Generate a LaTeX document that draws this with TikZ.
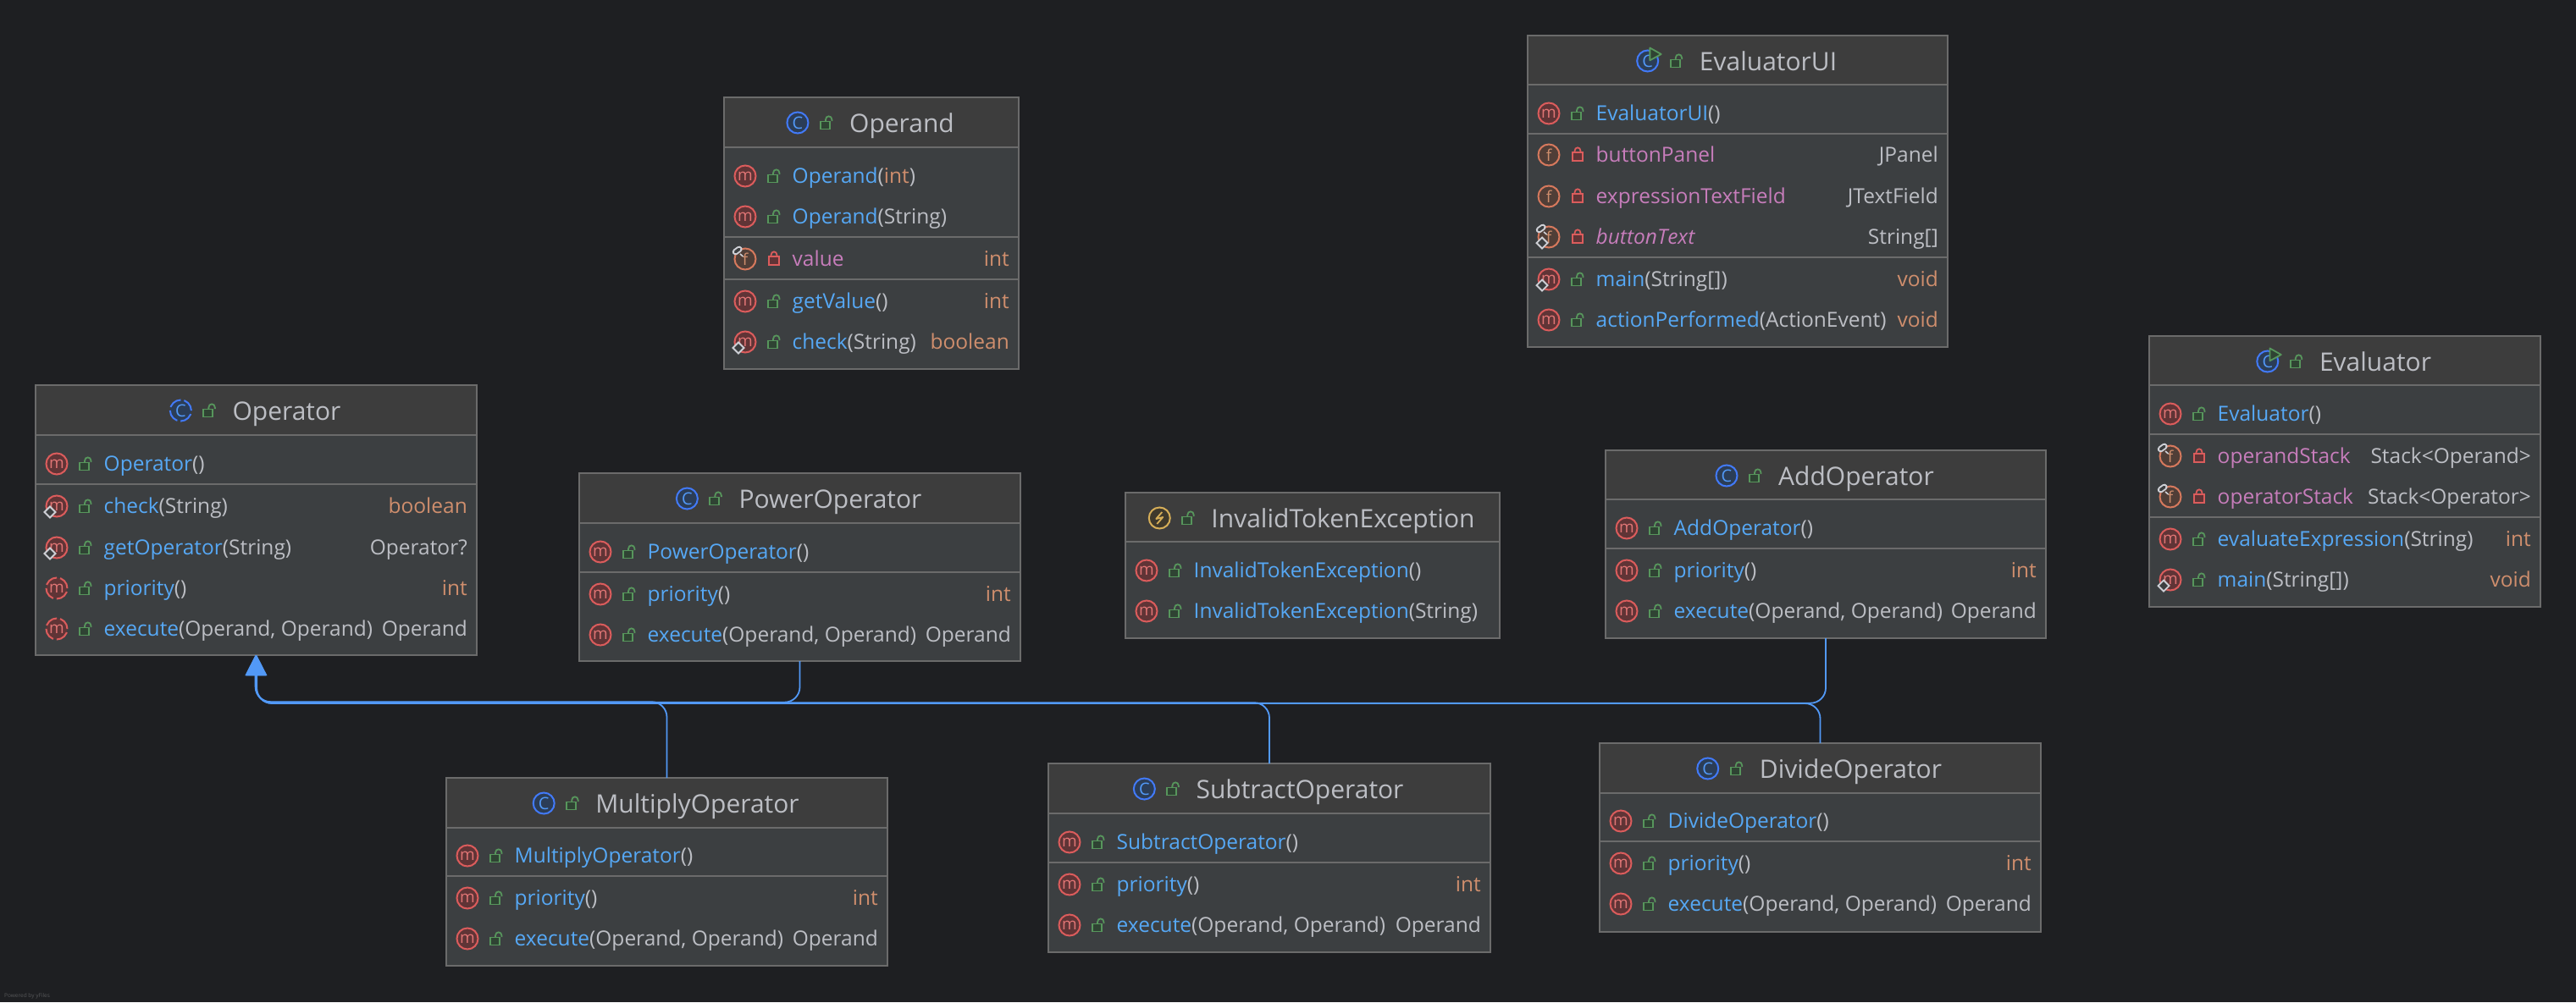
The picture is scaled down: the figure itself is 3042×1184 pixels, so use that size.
\documentclass[tikz,border=0pt]{standalone}
\usepackage{fontspec}
\setmainfont{Open Sans}
\usetikzlibrary{arrows.meta}
\definecolor{canvasbg}{HTML}{1E1F22}
\definecolor{bodyfill}{HTML}{3C3F41}
\definecolor{titlefill}{HTML}{3D3D3D}
\definecolor{framegray}{HTML}{6B6B6B}
\definecolor{plaintext}{HTML}{BCBEC4}
\definecolor{nameblue}{HTML}{56A8F5}
\definecolor{fieldpink}{HTML}{C77DBB}
\definecolor{typeorange}{HTML}{CF8E6D}
\definecolor{linkblue}{HTML}{5299F7}
\definecolor{lockgreen}{HTML}{57965C}
\definecolor{lockred}{HTML}{DB5C5C}
\definecolor{markwhite}{HTML}{CED0D6}
\definecolor{boltyellow}{HTML}{D6AE58}
\newcommand{\bodyfont}{\fontsize{24.5}{30}\selectfont}
\newcommand{\titlefont}{\fontsize{30}{36}\selectfont}
\newcommand{\nm}[1]{\textcolor{nameblue}{#1}}
\newcommand{\fd}[1]{\textcolor{fieldpink}{#1}}
\newcommand{\ty}[1]{\textcolor{typeorange}{#1}}
\tikzset{
	lockopen/.pic={
		\draw[lockgreen, line width=1.8pt] (-1,-1.5) -- (-1,-3.5) .. controls (-1,-9) and (6.5,-9) .. (6.5,-3.5) -- (6.5,-2);
		\draw[lockgreen, line width=1.8pt, fill=lockgreen!30!canvasbg] (-7,-1.5) rectangle (4,7.5);
	},
	lockshut/.pic={
		\draw[lockred, line width=1.8pt] (-3.5,-2.7) -- (-3.5,-4.5) .. controls (-3.5,-10) and (3.5,-10) .. (3.5,-4.5) -- (3.5,-2.7);
		\draw[lockred, line width=1.8pt, fill=lockred!35!canvasbg] (-6,-2.7) rectangle (6,6.7);
	},
	staticmark/.pic={
		\draw[markwhite, line width=1.8pt, fill=bodyfill] (-6.5,0) -- (0,-6.5) -- (6.5,0) -- (0,6.5) -- cycle;
	},
	finalmark/.pic={
		\draw[markwhite, line width=1.6pt] (-6,-6) -- (-2.5,-3);
		\draw[markwhite, line width=7.5pt, line cap=round] (-11.5,-8.4) -- (-7.1,-11.6);
		\draw[bodyfill, line width=3.5pt, line cap=round] (-11.5,-8.4) -- (-7.1,-11.6);
	},
	runmark/.pic={
		\draw[lockgreen, line width=1.8pt, fill=lockgreen!30!canvasbg, line join=round] (2.7,-15.5) -- (16,-8) -- (2.7,-0.7) -- cycle;
	},
	boltmark/.pic={
		\draw[boltyellow, line width=1.8pt, line join=round] (3,-7) -- (-4,1) -- (4,-1) -- (-3,7);
	}
}
% box frame, title band and title rule; also remembers the box for the rows
\newcommand{\classbox}[6]{
	\def\boxN{#1}\def\boxL{#2}\def\boxR{#3}\def\boxT{#4}
	\node[boxframe, minimum width={#3-#2}, minimum height={#5-#4}] (#1) at ({(#2+#3)/2},{(#4+#5)/2}) {};
	\fill[titlefill] ({#2+1},{#4+1}) rectangle ({#3-1},#6);
	\draw[rulestyle] (#2,#6) -- (#3,#6);
}
\newcommand{\classtitle}[3][iconc]{
	\node[titletext] (\boxN-title) at ({(\boxL+\boxR)/2+36},{\boxT+41.5}) {#2};
	\node[#1] (\boxN-icon) at ([shift={(-61,-11.5)}]\boxN-title.base west) {#3};
	\pic at ([shift={(-27,-11.5)}]\boxN-title.base west) {lockopen};
}
\newcommand{\sectionrule}[1]{\draw[rulestyle] (\boxL,#1) -- (\boxR,#1);}
\newcommand{\rowtexts}[3]{
	\node[rowtext, anchor=base west] (\boxN-text#1) at ({\boxL+80.5},{#1+8.5}) {#2};
	\if\relax\detokenize{#3}\relax\else
	\node[rowtext, anchor=base east] (\boxN-type#1) at ({\boxR-11},{#1+8.5}) {#3};
	\fi
}
\newcommand{\methodrow}[4][iconm]{
	\node[#1] (\boxN-icon#2) at ({\boxL+25},#2) {m};
	\pic at ({\boxL+59},#2) {lockopen};
	\rowtexts{#2}{#3}{#4}
}
\newcommand{\fieldrow}[3]{
	\node[iconf] (\boxN-icon#1) at ({\boxL+25},#1) {f};
	\pic at ({\boxL+59},#1) {lockshut};
	\rowtexts{#1}{#2}{#3}
}
\newcommand{\staticat}[1]{\pic at ({\boxL+17},{#1+7}) {staticmark};}
\newcommand{\finalat}[1]{\pic at ({\boxL+25},#1) {finalmark};}
\begin{document}
\begin{tikzpicture}[x=1pt,y=-1pt]
	\tikzstyle{boxframe} = [rectangle, draw=framegray, fill=bodyfill, line width=2pt, inner sep=0pt, outer sep=0pt]
	\tikzstyle{rulestyle} = [draw=framegray, line width=2pt]
	\tikzstyle{titletext} = [anchor=base, text=plaintext, font=\titlefont, inner sep=0pt]
	\tikzstyle{rowtext} = [text=plaintext, font=\bodyfont, inner sep=0pt]
	\tikzstyle{iconbase} = [circle, line width=2pt, minimum size=25pt, inner sep=0pt, font=\fontsize{19}{19}\selectfont]
	\tikzstyle{iconm} = [iconbase, draw=lockred, fill=lockred!35!canvasbg, text=lockred!85!white]
	\tikzstyle{iconf} = [iconbase, draw=typeorange!85!red, fill=typeorange!28!canvasbg, text=typeorange]
	\tikzstyle{iconc} = [iconbase, draw=linkblue!80!blue, fill=linkblue!25!canvasbg, text=linkblue, font=\fontsize{20}{20}\selectfont]
	\tikzstyle{icone} = [iconbase, draw=boltyellow, fill=boltyellow!18!canvasbg]
	\tikzstyle{brokenring} = [dash pattern=on 15.5pt off 4pt]
	\tikzstyle{inherit} = [draw=linkblue, line width=1.8pt, rounded corners=18pt, -{Triangle[length=24pt,width=24pt]}]

	\useasboundingbox[fill=canvasbg] (0,0) rectangle (3042,1184);

	\classbox{Operand}{855}{1203}{115}{436}{174}
	\classtitle{Operand}{C}
	\methodrow{208}{\nm{Operand}(\ty{int})}{}
	\methodrow{256}{\nm{Operand}(String)}{}
	\sectionrule{280}
	\fieldrow{306}{\fd{value}}{\ty{int}}
	\finalat{306}
	\sectionrule{330}
	\methodrow{356}{\nm{getValue}()}{\ty{int}}
	\methodrow{404}{\nm{check}(String)}{\ty{boolean}}
	\staticat{404}

	\classbox{Operator}{42}{563}{455}{774}{514}
	\classtitle[iconc, brokenring]{Operator}{C}
	\methodrow{548}{\nm{Operator}()}{}
	\sectionrule{572}
	\methodrow{598}{\nm{check}(String)}{\ty{boolean}}
	\staticat{598}
	\methodrow{647}{\nm{getOperator}(String)}{Operator?}
	\staticat{647}
	\methodrow[iconm, brokenring]{695}{\nm{priority}()}{\ty{int}}
	\methodrow[iconm, brokenring]{743}{\nm{execute}(Operand, Operand)}{Operand}

	\classbox{PowerOperator}{684}{1205}{559}{781}{618}
	\classtitle{PowerOperator}{C}
	\methodrow{652}{\nm{PowerOperator}()}{}
	\sectionrule{676}
	\methodrow{702}{\nm{priority}()}{\ty{int}}
	\methodrow{750}{\nm{execute}(Operand, Operand)}{Operand}

	\classbox{InvalidTokenException}{1329}{1771}{582}{754}{640}
	\classtitle[icone]{InvalidTokenException}{}
	\pic at (\boxN-icon) {boltmark};
	\methodrow{674}{\nm{InvalidTokenException}()}{}
	\methodrow{722}{\nm{InvalidTokenException}(String)}{}

	\classbox{EvaluatorUI}{1804}{2300}{42}{410}{100}
	\classtitle{EvaluatorUI}{C}
	\pic at (\boxN-icon) {runmark};
	\methodrow{134}{\nm{EvaluatorUI}()}{}
	\sectionrule{158}
	\fieldrow{183}{\fd{buttonPanel}}{JPanel}
	\fieldrow{232}{\fd{expressionTextField}}{JTextField}
	\fieldrow{280}{\fd{\textit{buttonText}}}{String[]}
	\finalat{280}
	\staticat{280}
	\sectionrule{304}
	\methodrow{330}{\nm{main}(String[])}{\ty{void}}
	\staticat{330}
	\methodrow{378}{\nm{actionPerformed}(ActionEvent)}{\ty{void}}

	\classbox{Evaluator}{2538}{3000}{397}{717}{455}
	\classtitle{Evaluator}{C}
	\pic at (\boxN-icon) {runmark};
	\methodrow{489}{\nm{Evaluator}()}{}
	\sectionrule{513}
	\fieldrow{539}{\fd{operandStack}}{Stack<Operand>}
	\finalat{539}
	\fieldrow{587}{\fd{operatorStack}}{Stack<Operator>}
	\finalat{587}
	\sectionrule{611}
	\methodrow{637}{\nm{evaluateExpression}(String)}{\ty{int}}
	\methodrow{685}{\nm{main}(String[])}{\ty{void}}
	\staticat{685}

	\classbox{AddOperator}{1896}{2416}{532}{754}{590}
	\classtitle{AddOperator}{C}
	\methodrow{624}{\nm{AddOperator}()}{}
	\sectionrule{648}
	\methodrow{674}{\nm{priority}()}{\ty{int}}
	\methodrow{722}{\nm{execute}(Operand, Operand)}{Operand}

	\classbox{MultiplyOperator}{527}{1048}{919}{1141}{978}
	\classtitle{MultiplyOperator}{C}
	\methodrow{1011}{\nm{MultiplyOperator}()}{}
	\sectionrule{1035}
	\methodrow{1061}{\nm{priority}()}{\ty{int}}
	\methodrow{1109}{\nm{execute}(Operand, Operand)}{Operand}

	\classbox{SubtractOperator}{1238}{1760}{902}{1125}{961}
	\classtitle{SubtractOperator}{C}
	\methodrow{995}{\nm{SubtractOperator}()}{}
	\sectionrule{1019}
	\methodrow{1045}{\nm{priority}()}{\ty{int}}
	\methodrow{1093}{\nm{execute}(Operand, Operand)}{Operand}

	\classbox{DivideOperator}{1889}{2410}{878}{1101}{937}
	\classtitle{DivideOperator}{C}
	\methodrow{970}{\nm{DivideOperator}()}{}
	\sectionrule{994}
	\methodrow{1020}{\nm{priority}()}{\ty{int}}
	\methodrow{1068}{\nm{execute}(Operand, Operand)}{Operand}

	\coordinate (bus1) at (301.6,829.2);
	\coordinate (bus2) at (302.0,829.7);
	\coordinate (bus3) at (302.4,830.2);
	\coordinate (bus4) at (302.8,830.7);
	\coordinate (bus5) at (303.2,831.0);
	\draw[inherit] (MultiplyOperator.north) -- (MultiplyOperator.north |- bus1) -- (bus1) -- (bus1 |- Operator.south);
	\draw[inherit] (PowerOperator.south) -- (PowerOperator.south |- bus2) -- (bus2) -- (bus2 |- Operator.south);
	\draw[inherit] (SubtractOperator.north) -- (SubtractOperator.north |- bus3) -- (bus3) -- (bus3 |- Operator.south);
	\draw[inherit] (AddOperator.south) -- (AddOperator.south |- bus4) -- (bus4) -- (bus4 |- Operator.south);
	\draw[inherit] (DivideOperator.north) -- (DivideOperator.north |- bus5) -- (bus5) -- (bus5 |- Operator.south);

	\node[anchor=base west, inner sep=0pt, text=white!25!canvasbg, font=\fontsize{6.5}{7}\selectfont] (credit) at (5,1178) {Powered by yFiles};
\end{tikzpicture}
\end{document}
